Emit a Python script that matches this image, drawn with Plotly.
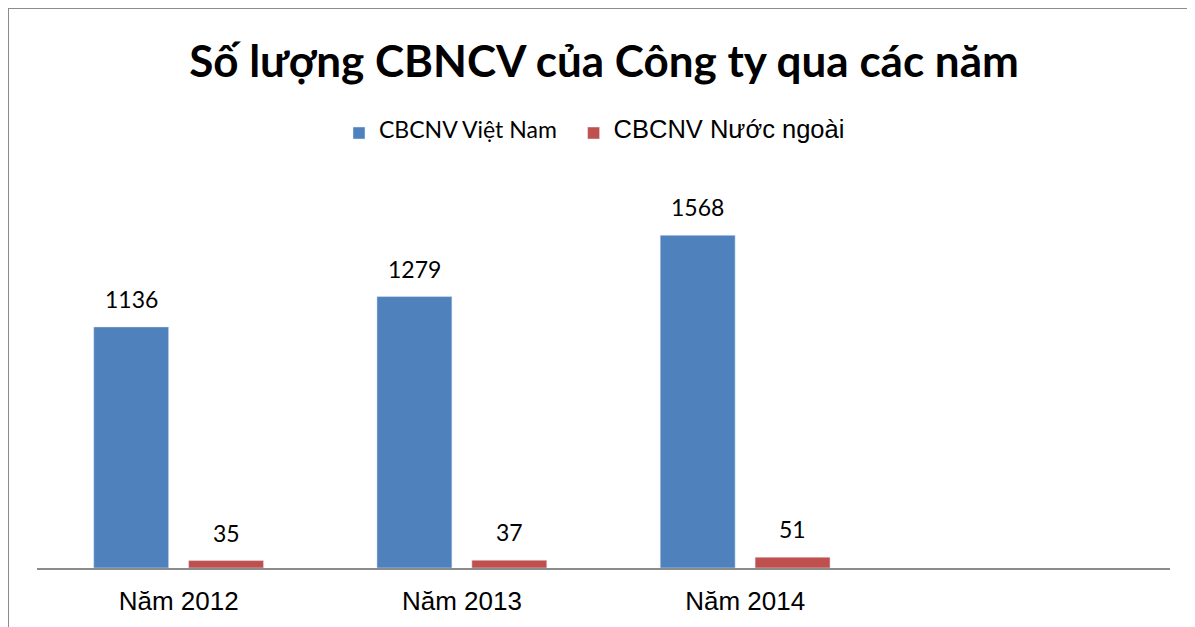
import plotly.graph_objects as go

# Số lượng CBCNV theo năm
years = ["Năm 2012", "Năm 2013", "Năm 2014", " "]
viet_nam = [1136, 1279, 1568, None]
nuoc_ngoai = [35, 37, 51, None]

# the page adds an 8px body margin, so the figure is 8px smaller
W, H = 1187, 619
L, R, T, B = 29, 25, 178, 59
plot_w = W - L - R
plot_h = H - T - B


def px_x(p):
    return (p - L) / plot_w


def px_y(p):
    return (H - B - p) / plot_h


fig = go.Figure()
fig.add_trace(go.Bar(x=years, y=viet_nam, marker_color="#4F81BD",
                     name="<span style='font-family:Lato;font-size:23px'>CBCNV Việt Nam&nbsp;&nbsp;</span>"))
fig.add_trace(go.Bar(x=years, y=nuoc_ngoai, marker_color="#C0504D",
                     name="<span style='font-family:Liberation Sans;font-size:25.5px'>CBCNV Nước ngoài</span>"))

# data labels
for series, shift in [(viet_nam, -47.5), (nuoc_ngoai, 47.5)]:
    for cat, v in zip(years, series):
        if v is None:
            continue
        fig.add_annotation(x=cat, y=v, text=str(v), showarrow=False,
                           xshift=shift, yshift=12, yanchor="bottom",
                           font=dict(family="Lato", size=23, color="black"))

fig.update_layout(
    width=W, height=H,
    margin=dict(l=L, r=R, t=T, b=B),
    paper_bgcolor="white", plot_bgcolor="white",
    barmode="group", bargap=0.33, bargroupgap=0.21,
    title=dict(text="<b>Số lượng CBNCV của Công ty qua các năm</b>",
               x=596 / W, xanchor="center", y=1 - 54 / H, yanchor="middle",
               font=dict(family="Lato", size=44, color="black")),
    legend=dict(orientation="h", x=px_x(331), xanchor="left", y=px_y(125), yanchor="middle",
                font=dict(color="black"), itemclick=False),
    showlegend=True,
    shapes=[
        dict(type="line", xref="paper", yref="paper", x0=px_x(0), x1=px_x(0),
             y0=px_y(0), y1=px_y(H + 5), line=dict(color="#8c8c8c", width=2)),
        dict(type="line", xref="paper", yref="paper", x0=px_x(0), x1=px_x(W + 5),
             y0=px_y(0), y1=px_y(0), line=dict(color="#8c8c8c", width=2)),
    ],
)
fig.update_xaxes(showline=True, linecolor="#8c8c8c", linewidth=2, showgrid=False,
                 ticks="outside", ticklen=9, tickcolor="rgba(0,0,0,0)",
                 tickfont=dict(family="Liberation Sans", size=26, color="black"))
fig.update_yaxes(range=[0, 1800], visible=False)

fig.write_html("out.html")
